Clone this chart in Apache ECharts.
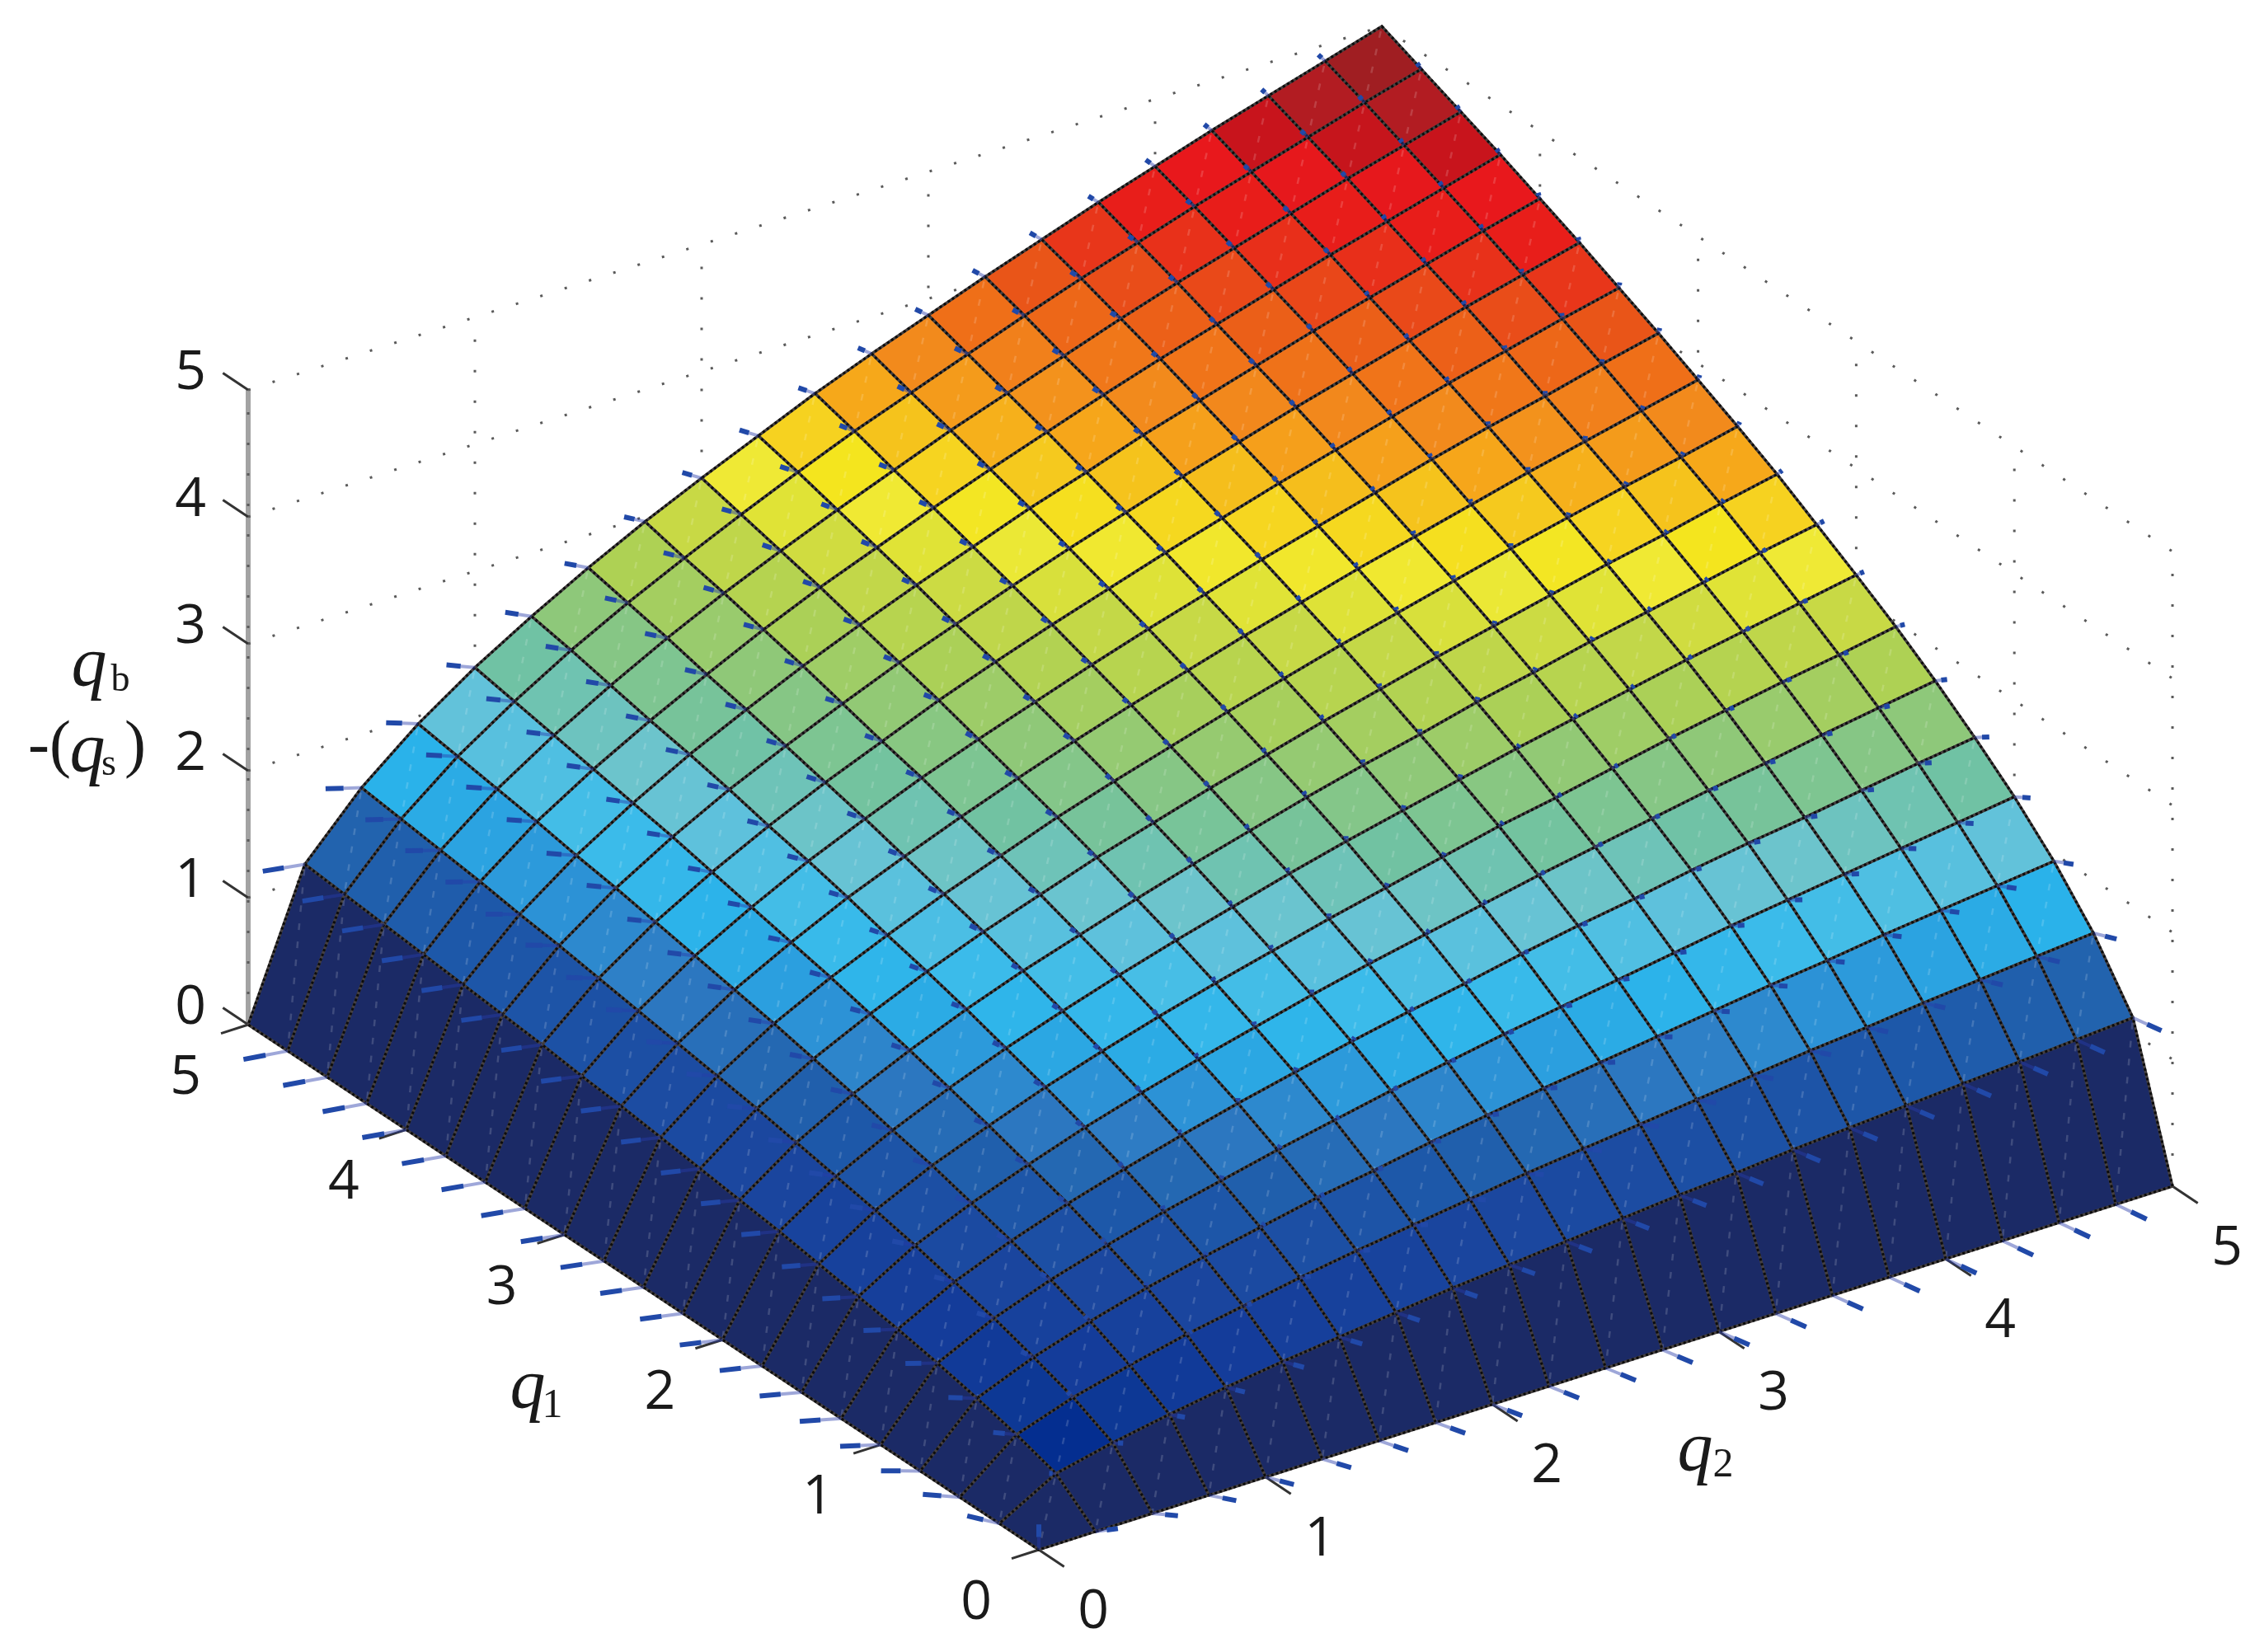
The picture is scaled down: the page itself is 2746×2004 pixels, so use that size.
<!DOCTYPE html>
<html>
<head>
  <meta charset="UTF-8">
  <title>Surface q1 q2</title>
  <style>
    body { margin: 0; background: #fff; }
    #main { width: 2746px; height: 2004px; }
  </style>
</head>
<body>
  <div id="main"></div>
  <script src="https://cdn.jsdelivr.net/npm/echarts@6/dist/echarts.min.js"></script>
  <script>
    const q1Grid = [0, .25, .5, .75, 1, 1.25, 1.5, 1.75, 2, 2.25, 2.5, 2.75, 3, 3.25, 3.5, 3.75, 4, 4.25, 4.5, 4.75, 5];
    const q2Grid = [0, .25, .5, .75, 1, 1.25, 1.5, 1.75, 2, 2.25, 2.5, 2.75, 3, 3.25, 3.5, 3.75, 4, 4.25, 4.5, 4.75, 5];
    const q1Ticks = [0, 1, 2, 3, 4, 5];
    const q2Ticks = [0, 1, 2, 3, 4, 5];
    const zTicks = [0, 1, 2, 3, 4, 5];

    // surface height, one row per q1 grid value, one column per q2 grid value
    const surfaceZ = [
      [0,0,0,0,0,0,0,0,0,0,0,0,0,0,0,0,0,0,0,0,0],
      [0,.25,.35,.43,.50,.56,.61,.66,.71,.75,.79,.83,.87,.90,.94,.97,1.00,1.03,1.06,1.09,1.12],
      [0,.35,.50,.61,.71,.79,.87,.94,1.00,1.06,1.12,1.17,1.22,1.27,1.32,1.37,1.41,1.46,1.50,1.54,1.58],
      [0,.43,.61,.75,.87,.97,1.06,1.15,1.22,1.30,1.37,1.44,1.50,1.56,1.62,1.68,1.73,1.79,1.84,1.89,1.94],
      [0,.50,.71,.87,1.00,1.12,1.22,1.32,1.41,1.50,1.58,1.66,1.73,1.80,1.87,1.94,2.00,2.06,2.12,2.18,2.24],
      [0,.56,.79,.97,1.12,1.25,1.37,1.48,1.58,1.68,1.77,1.85,1.94,2.02,2.09,2.17,2.24,2.30,2.37,2.44,2.50],
      [0,.61,.87,1.06,1.22,1.37,1.50,1.62,1.73,1.84,1.94,2.03,2.12,2.21,2.29,2.37,2.45,2.52,2.60,2.67,2.74],
      [0,.66,.94,1.15,1.32,1.48,1.62,1.75,1.87,1.98,2.09,2.19,2.29,2.39,2.47,2.56,2.65,2.73,2.81,2.88,2.96],
      [0,.71,1.00,1.22,1.41,1.58,1.73,1.87,2.00,2.12,2.24,2.35,2.45,2.55,2.65,2.74,2.83,2.92,3.00,3.08,3.16],
      [0,.75,1.06,1.30,1.50,1.68,1.84,1.98,2.12,2.25,2.37,2.49,2.60,2.70,2.81,2.90,3.00,3.09,3.18,3.27,3.35],
      [0,.79,1.12,1.37,1.58,1.77,1.94,2.09,2.24,2.37,2.50,2.62,2.74,2.85,2.96,3.06,3.16,3.26,3.35,3.45,3.54],
      [0,.83,1.17,1.44,1.66,1.85,2.03,2.19,2.35,2.49,2.62,2.75,2.87,2.99,3.10,3.21,3.32,3.42,3.52,3.61,3.71],
      [0,.87,1.22,1.50,1.73,1.94,2.12,2.29,2.45,2.60,2.74,2.87,3.00,3.12,3.24,3.35,3.46,3.57,3.67,3.77,3.87],
      [0,.90,1.27,1.56,1.80,2.02,2.21,2.39,2.55,2.70,2.85,2.99,3.12,3.25,3.37,3.49,3.61,3.72,3.82,3.93,4.03],
      [0,.94,1.32,1.62,1.87,2.09,2.29,2.47,2.65,2.81,2.96,3.10,3.24,3.37,3.50,3.62,3.74,3.86,3.97,4.08,4.18],
      [0,.97,1.37,1.68,1.94,2.17,2.37,2.56,2.74,2.90,3.06,3.21,3.35,3.49,3.62,3.75,3.87,3.99,4.11,4.22,4.33],
      [0,1.00,1.41,1.73,2.00,2.24,2.45,2.65,2.83,3.00,3.16,3.32,3.46,3.61,3.74,3.87,4.00,4.12,4.24,4.36,4.47],
      [0,1.03,1.46,1.79,2.06,2.30,2.52,2.73,2.92,3.09,3.26,3.42,3.57,3.72,3.86,3.99,4.12,4.25,4.37,4.49,4.61],
      [0,1.06,1.50,1.84,2.12,2.37,2.60,2.81,3.00,3.18,3.35,3.52,3.67,3.82,3.97,4.11,4.24,4.37,4.50,4.62,4.74],
      [0,1.09,1.54,1.89,2.18,2.44,2.67,2.88,3.08,3.27,3.45,3.61,3.77,3.93,4.08,4.22,4.36,4.49,4.62,4.75,4.87],
      [0,1.12,1.58,1.94,2.24,2.50,2.74,2.96,3.16,3.35,3.54,3.71,3.87,4.03,4.18,4.33,4.47,4.61,4.74,4.87,5.00]
    ];

    // colormap: height -> colour
    const colorLevels = [0, .01, .25, .35, .5, .75, 1.0, 1.09, 1.25, 1.4, 1.54, 1.7, 1.89, 2.0, 2.18, 2.44, 2.67, 2.88, 3.0, 3.08, 3.18, 3.27, 3.35, 3.45, 3.61, 3.77, 3.93, 4.08, 4.22, 4.36, 4.49, 4.62, 4.75];
    const colorValues = ['#1b2a66', '#002a8c', '#042e90', '#0d3895', '#143c9a', '#1b479f', '#1d58a9', '#2263ae', '#2e7cc4', '#2c98da', '#2ab2ea', '#3dbcea', '#62c2da', '#6cc4cc', '#70c2a4', '#8ec87a', '#aed154', '#c8d945', '#e0e336', '#efe935', '#f4e51e', '#f6d220', '#f5c31c', '#f6a81a', '#f28a1c', '#ef6f18', '#e95518', '#e8361a', '#e81e1a', '#e8181c', '#c8141c', '#b21c22', '#a01e22'];

    // orthographic view, in the units of the hidden plane axes
    const viewOrigin = [1260, 1880];
    const viewQ1 = [-191.8, -127.4];
    const viewQ2 = [275, -88.2];
    const viewZ = -154;

    function project(q1, q2, z) {
      return [
        viewOrigin[0] + q1 * viewQ1[0] + q2 * viewQ2[0],
        viewOrigin[1] + q1 * viewQ1[1] + q2 * viewQ2[1] + z * viewZ
      ];
    }

    function colorAt(z) {
      let k = 0;
      while (k < colorLevels.length - 2 && z > colorLevels[k + 1]) k++;
      const t = Math.min(1, (z - colorLevels[k]) / (colorLevels[k + 1] - colorLevels[k]));
      return echarts.color.lerp(t, [colorValues[k], colorValues[k + 1]]);
    }

    // walls of the box behind the surface; last item is the dot spacing
    const wallLines = [];
    zTicks.forEach(z => {
      wallLines.push([5, 0, z, 5, 5, z, 31]);
      wallLines.push([5, 5, z, 0, 5, z, 31]);
    });
    q2Ticks.forEach(v => wallLines.push([5, v, 0, 5, v, 5, 37]));
    q1Ticks.forEach(v => wallLines.push([v, 5, 0, v, 5, 5, 37]));

    const tickLines = [];
    zTicks.forEach(z => tickLines.push([5, 0, z, 5.16, 0, z]));
    q1Ticks.forEach(v => tickLines.push([v, 0, 0, v, -0.12, 0]));
    q2Ticks.forEach(v => tickLines.push([0, v, 0, -0.16, v, 0]));

    // far cells first so nearer ones paint over them
    const cells = [];
    for (let s = 38; s >= 0; s--) {
      for (let i = 0; i < 20; i++) {
        const j = s - i;
        if (j >= 0 && j < 20) cells.push([i, j]);
      }
    }

    // the three far corners of the surface carry no arrow in the figure
    const vertices = [];
    q1Grid.forEach((_, i) => q2Grid.forEach((_, j) => {
      if (!((i === 20 && j === 0) || (i === 0 && j === 20) || (i === 20 && j === 20))) vertices.push([i, j]);
    }));

    // unit normal from finite differences of the height table
    function normalAt(i, j) {
      const i0 = Math.max(i - 1, 0), i1 = Math.min(i + 1, 20);
      const j0 = Math.max(j - 1, 0), j1 = Math.min(j + 1, 20);
      const dz1 = (surfaceZ[i1][j] - surfaceZ[i0][j]) / (q1Grid[i1] - q1Grid[i0]);
      const dz2 = (surfaceZ[i][j1] - surfaceZ[i][j0]) / (q2Grid[j1] - q2Grid[j0]);
      const n = Math.sqrt(dz1 * dz1 + dz2 * dz2 + 1);
      return [-dz1 / n, -dz2 / n, 1 / n];
    }

    const arrowLength = 0.2;
    const labelFont = '66px "Open Sans"';

    const chart = echarts.init(document.getElementById('main'), null, { renderer: 'canvas' });

    function renderWall(params, api) {
      const a = api.coord(project(api.value(0), api.value(1), api.value(2)));
      const b = api.coord(project(api.value(3), api.value(4), api.value(5)));
      return {
        type: 'line',
        shape: { x1: a[0], y1: a[1], x2: b[0], y2: b[1] },
        style: { stroke: '#5a5a5a', lineWidth: 3, lineDash: [3, api.value(6) - 3], fill: null }
      };
    }

    function renderTick(params, api) {
      const a = api.coord(project(api.value(0), api.value(1), api.value(2)));
      const b = api.coord(project(api.value(3), api.value(4), api.value(5)));
      return {
        type: 'line',
        shape: { x1: a[0], y1: a[1], x2: b[0], y2: b[1] },
        style: { stroke: '#333', lineWidth: 3, fill: null }
      };
    }

    function renderZAxis(params, api) {
      const a = api.coord(project(5, 0, 0));
      const b = api.coord(project(5, 0, 5));
      return {
        type: 'line',
        shape: { x1: a[0], y1: a[1], x2: b[0], y2: b[1] },
        style: { stroke: '#a3a3a3', lineWidth: 6, fill: null }
      };
    }

    function renderCell(params, api) {
      const i = api.value(0), j = api.value(1);
      const corner = (a, b) => api.coord(project(q1Grid[a], q2Grid[b], surfaceZ[a][b]));
      const pts = [corner(i, j), corner(i + 1, j), corner(i + 1, j + 1), corner(i, j + 1)];
      return {
        type: 'group',
        children: [
          { type: 'polygon', shape: { points: pts }, style: { fill: colorAt(surfaceZ[i][j]), stroke: '#454040', lineWidth: 3.4 } },
          {
            type: 'line',
            shape: { x1: pts[2][0], y1: pts[2][1], x2: pts[0][0], y2: pts[0][1] },
            style: { stroke: 'rgba(255,255,255,0.16)', lineWidth: 2.5, lineDash: [8, 14], lineDashOffset: -6, fill: null }
          },
          { type: 'polygon', shape: { points: pts }, style: { fill: null, stroke: '#0c0c0c', lineWidth: 3, lineDash: [3, 3] } }
        ]
      };
    }

    function renderArrow(params, api) {
      const i = api.value(0), j = api.value(1);
      const n = normalAt(i, j);
      const q1 = q1Grid[i], q2 = q2Grid[j], z = surfaceZ[i][j];
      const a = api.coord(project(q1, q2, z));
      const b = api.coord(project(q1 + n[0] * arrowLength, q2 + n[1] * arrowLength, z + n[2] * arrowLength));
      const m = [a[0] + (b[0] - a[0]) * 0.5, a[1] + (b[1] - a[1]) * 0.5];
      return {
        type: 'group',
        children: [
          { type: 'line', shape: { x1: a[0], y1: a[1], x2: m[0], y2: m[1] }, style: { stroke: 'rgba(40,60,170,0.45)', lineWidth: 4, fill: null } },
          { type: 'line', shape: { x1: m[0], y1: m[1], x2: b[0], y2: b[1] }, style: { stroke: '#2149a8', lineWidth: 6, fill: null } }
        ]
      };
    }

    function renderLabel(params, api) {
      const p = api.coord(project(api.value(0), api.value(1), api.value(2)));
      return {
        type: 'text',
        style: {
          x: p[0] + api.value(3), y: p[1] + api.value(4),
          text: String(api.value(5)),
          font: labelFont, fill: '#1a1a1a', align: 'center', verticalAlign: 'middle'
        }
      };
    }

    const labelData = [];
    zTicks.forEach(z => labelData.push([5, 0, z, -70, -20, z]));
    q1Ticks.forEach(v => labelData.push([v, 0, 0, -76, 65, v]));
    q2Ticks.forEach(v => labelData.push([0, v, 0, 66, 76, v]));

    function titleText(text, x, y, size, italic) {
      return {
        type: 'text', x: x, y: y,
        style: {
          text: text,
          font: (italic ? 'italic ' : '') + size + 'px "Liberation Serif"',
          fill: '#1a1a1a', align: 'center', verticalAlign: 'middle'
        }
      };
    }

    chart.setOption({
      animation: false,
      backgroundColor: '#fff',
      grid: { left: 0, right: 0, top: 0, bottom: 0 },
      xAxis: { type: 'value', min: 0, max: 2746, show: false },
      yAxis: { type: 'value', min: 0, max: 2004, inverse: true, show: false },
      graphic: {
        elements: [
          titleText('q', 640, 1684, 86, true),
          titleText('1', 670, 1706, 50, false),
          titleText('q', 2056, 1760, 86, true),
          titleText('2', 2090, 1778, 50, false),
          titleText('q', 108, 808, 86, true),
          titleText('b', 146, 826, 46, false),
          titleText('-(', 60, 908, 78, false),
          titleText('q', 106, 912, 86, true),
          titleText('s', 132, 928, 46, false),
          titleText(')', 164, 908, 78, false)
        ]
      },
      series: [
        { type: 'custom', name: 'walls', data: wallLines, renderItem: renderWall, clip: false, silent: true, progressive: 0, z: 1 },
        { type: 'custom', name: 'z axis', data: [[0]], renderItem: renderZAxis, clip: false, silent: true, z: 0 },
        { type: 'custom', name: 'ticks', data: tickLines, renderItem: renderTick, clip: false, silent: true, progressive: 0, z: 2 },
        { type: 'custom', name: 'surface', data: cells, renderItem: renderCell, clip: false, silent: true, progressive: 0, z: 3 },
        { type: 'custom', name: 'normals', data: vertices, renderItem: renderArrow, clip: false, silent: true, progressive: 0, z: 4 },
        { type: 'custom', name: 'labels', data: labelData, renderItem: renderLabel, clip: false, silent: true, progressive: 0, z: 5 }
      ]
    });
  </script>
</body>
</html>
